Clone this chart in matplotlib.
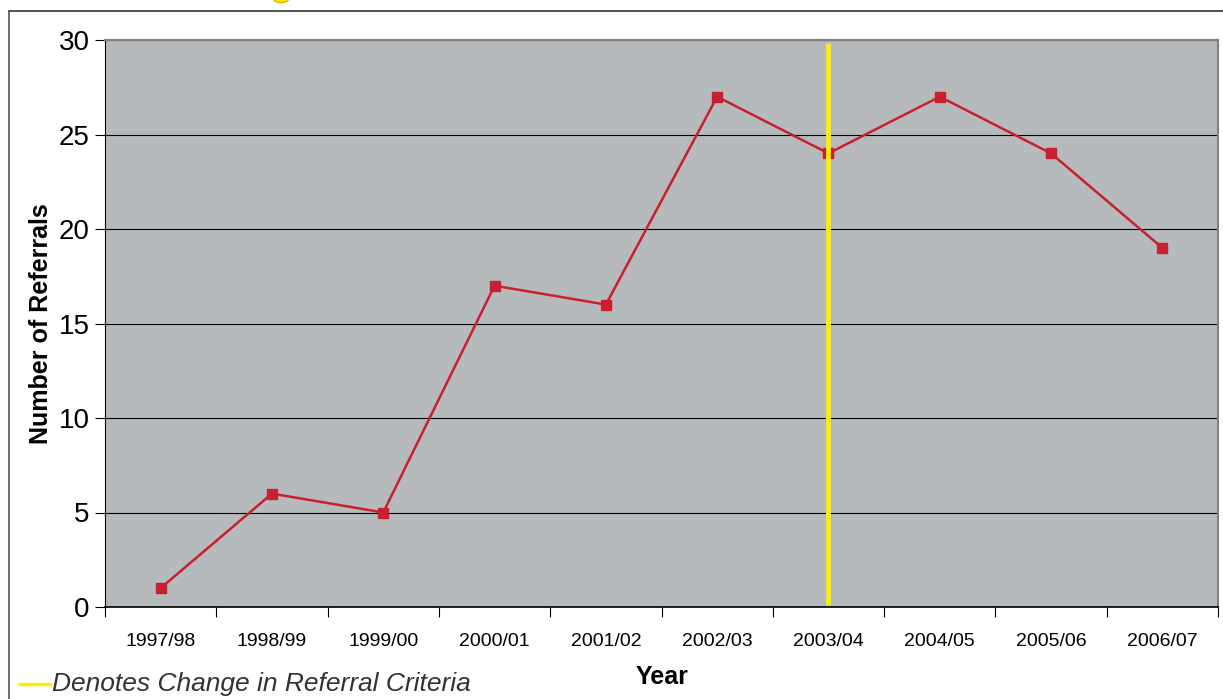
import matplotlib.pyplot as plt
from matplotlib.patches import Circle
from matplotlib.lines import Line2D

years = ["1997/98", "1998/99", "1999/00", "2000/01", "2001/02",
         "2002/03", "2003/04", "2004/05", "2005/06", "2006/07"]
referrals = [1, 6, 5, 17, 16, 27, 24, 27, 24, 19]
change_year = "2003/04"

plt.rcParams['font.family'] = ['Liberation Sans', 'DejaVu Sans']

W, H = 1223, 699
fig = plt.figure(figsize=(W / 100, H / 100), dpi=100)
ax = fig.add_axes([105 / W, 1 - 607 / H, (1218 - 105) / W, (607 - 40) / H])
ax.set_facecolor("#b7babd")

x = list(range(len(years)))
ax.plot(x, referrals, color="#c8202f", lw=1.8, marker="s", ms=7,
        markerfacecolor="#c8202f", markeredgecolor="#c8202f", zorder=3)

cx = years.index(change_year)
ax.plot([cx, cx], [0.1, 29.85], color="#ffee00", lw=3.5, zorder=4,
        solid_capstyle="butt")

ax.set_xlim(-0.5, len(years) - 0.5)
ax.set_ylim(0, 30)
ax.set_yticks(range(0, 31, 5))
ax.yaxis.grid(True, color="black", lw=0.8)
ax.set_axisbelow(True)
ax.set_xticks([i - 0.5 for i in range(len(years) + 1)], minor=False)
ax.set_xticklabels([])
ax.set_xticks(x, minor=True)
ax.set_xticklabels(years, minor=True, fontsize=14)
ax.tick_params(axis="x", which="minor", length=0, pad=19)
ax.tick_params(axis="x", which="major", length=7, direction="out", color="black")
ax.tick_params(axis="y", length=7, direction="out", labelsize=20, pad=4)

for side in ["top", "right"]:
    ax.spines[side].set_color("#808080")
    ax.spines[side].set_linewidth(1.5)
ax.spines["left"].set_color("black")
ax.spines["bottom"].set_color("black")
ax.spines["bottom"].set_linewidth(1.2)

ax.set_ylabel("Number of Referrals", fontsize=18, fontweight="bold", labelpad=4)
fig.text(662 / W, 1 - 677 / H, "Year", fontsize=18, fontweight="bold",
         ha="center", va="center")

# legend-like note bottom left
fig.add_artist(Line2D([20 / W, 50 / W], [1 - 684 / H] * 2, color="#ffee00", lw=2.5))
fig.text(52 / W, 1 - 684 / H, "Denotes Change in Referral Criteria", fontsize=19,
         style="italic", color="#333333", ha="left", va="center")

# outer frame
fig.add_artist(Line2D([9 / W, 1], [1 - 11 / H] * 2, color="#333333", lw=1.2))
fig.add_artist(Line2D([9 / W, 9 / W], [0, 1 - 11 / H], color="#555555", lw=1.2))
fig.add_artist(Circle((281 / W, 1 + 2 / H), 8 / W, transform=fig.transFigure,
                      facecolor="#ffee00", edgecolor="#e0b000", lw=1))

fig.savefig("out.png", dpi=100)
